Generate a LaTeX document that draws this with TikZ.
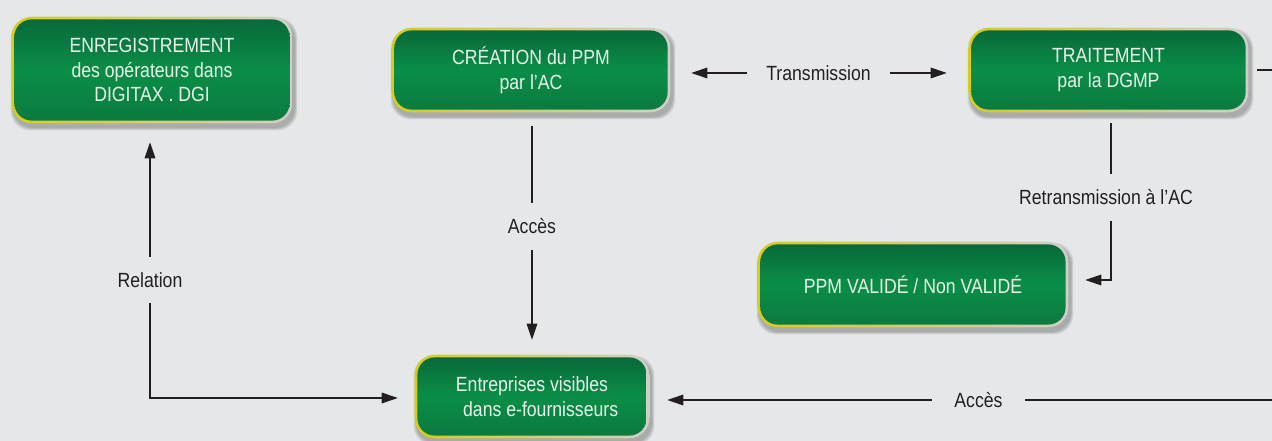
\documentclass[tikz,border=0pt]{standalone}
\usepackage{fontspec}
\setmainfont{Liberation Sans}[FakeStretch=0.86]
\usetikzlibrary{arrows.meta,backgrounds}
\definecolor{canvas}{HTML}{E6E7E9}
\definecolor{ink}{HTML}{231F20}
\definecolor{ringY}{HTML}{D8CC1A}
\definecolor{ringG}{HTML}{CFCFC8}
\definecolor{gTop}{HTML}{08693A}
\definecolor{gMid}{HTML}{0A8E47}
\definecolor{gBot}{HTML}{0B7A3F}
\definecolor{boxtxt}{HTML}{EAF2EA}
\pgfdeclarelayer{bgzero}
\pgfsetlayers{bgzero,background,main}
\newcommand\greenbg[1]{%
  \begin{pgfonlayer}{background}
    \foreach \g in {4,3,2,1}{%
      \fill[black,opacity=0.07,rounded corners=15pt]
        ([shift={(1.5pt-\g*0.6pt,-3pt-\g*0.6pt)}]#1.south west) rectangle
        ([shift={(1.5pt+\g*0.6pt,-3pt+\g*0.6pt)}]#1.north east);}
    \path[ringsh] (#1.south west) rectangle (#1.north east);
    \path[innersh] ([shift={(2pt,2pt)}]#1.south west) rectangle ([shift={(-2pt,-2pt)}]#1.north east);
  \end{pgfonlayer}}
\begin{document}
\begin{tikzpicture}[x=0.75pt,y=-0.75pt,
  every node/.style={font=\fontsize{15.4}{18.4}\selectfont},
  gbox/.style={align=center,text=boxtxt,inner sep=0pt},
  ringsh/.style={rounded corners=15pt,left color=ringY,right color=ringG},
  innersh/.style={rounded corners=13pt,top color=gTop,bottom color=gBot,middle color=gMid},
  lbl/.style={text=ink,inner sep=0pt,outer sep=0pt},
  ln/.style={draw=ink,line width=0.8pt},
  arr/.style={ln,-{Triangle[length=12pt,width=8pt]}}]
\begin{pgfonlayer}{bgzero}
  \fill[canvas] (0,0) rectangle (1272,441);
\end{pgfonlayer}
\useasboundingbox (0,0) rectangle (1272,441);

% boxes
\node[gbox,minimum width=280*0.75pt,minimum height=106*0.75pt] (A) at (152,70)
  {ENREGISTREMENT\\des opérateurs dans\\DIGITAX . DGI};
\node[gbox,minimum width=278*0.75pt,minimum height=84*0.75pt] (B) at (531,70)
  {CRÉATION du PPM\\par l’AC};
\node[gbox,minimum width=279*0.75pt,minimum height=84*0.75pt] (C) at (1108.5,70)
  {TRAITEMENT\\par la DGMP};
\node[gbox,minimum width=310*0.75pt,minimum height=85*0.75pt] (D) at (913,284.5)
  {PPM VALIDÉ / Non VALIDÉ};
\node[gbox,minimum width=234*0.75pt,minimum height=83*0.75pt] (E) at (532,396.5)
  {Entreprises visibles\\\hspace*{13pt}dans e-fournisseurs};
\greenbg{A}\greenbg{B}\greenbg{C}\greenbg{D}\greenbg{E}

% labels
\node[lbl,minimum width=143*0.75pt] (lblT) at (818.5,73) {Transmission};
\node[lbl,minimum height=47*0.75pt] (lblAV) at (532,226.5) {Accès};
\node[lbl,minimum height=47*0.75pt] (lblR) at (1106,197.5) {Retransmission à l’AC};
\node[lbl,minimum height=46*0.75pt] (lblRel) at (150,280) {Relation};
\node[lbl,minimum width=93*0.75pt] (lblAB) at (978.5,400) {Accès};

\coordinate (rt) at (1111,280);
\coordinate (corner) at (150,398);
\coordinate (edgeR) at (1272,70);
\coordinate (edgeB) at (1272,400);

% connectors
\draw[arr,shorten >=15.75pt] (lblT.west) -- (lblT.west -| B.east);
\draw[arr,shorten >=16.5pt] (lblT.east) -- (lblT.east -| C.west);
\draw[ln,shorten <=10.5pt] (lblAV.north |- B.south) -- (lblAV.north);
\draw[arr,shorten >=11.25pt] (lblAV.south) -- (E.north);
\draw[ln,shorten <=8.25pt] (C.south -| rt) -- (lblR.north -| rt);
\draw[arr,shorten >=12.75pt] (lblR.south -| rt) -- (rt) -- (D.east |- rt);
\draw[ln,shorten <=6.75pt] (C.east) -- (edgeR);
\draw[arr,shorten >=14.25pt] (lblRel.north) -- (lblRel.north |- A.south);
\draw[arr,shorten >=12.75pt] (lblRel.south) -- (corner) -- (E.west |- corner);
\draw[arr,shorten >=13.5pt] (lblAB.west) -- (lblAB.west -| E.east);
\draw[ln] (lblAB.east) -- (edgeB);
\end{tikzpicture}
\end{document}
